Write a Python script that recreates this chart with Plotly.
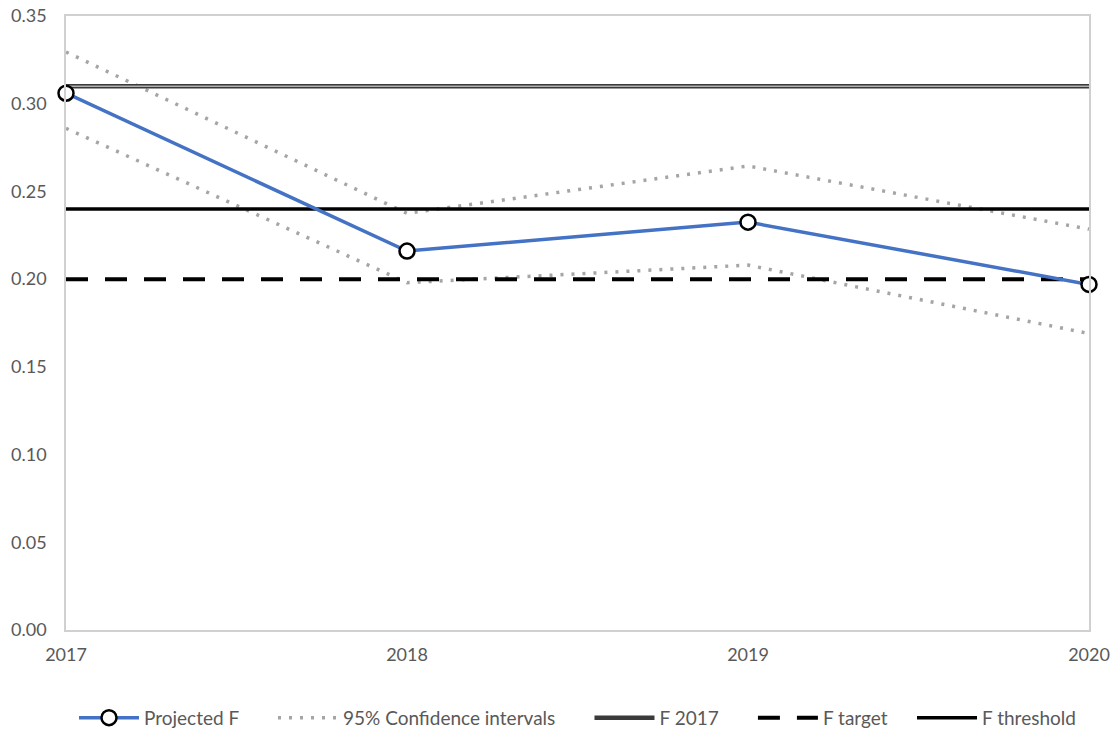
import plotly.graph_objects as go

years = [2017, 2018, 2019, 2020]
projected_f = [0.306, 0.216, 0.2325, 0.197]
ci_upper = [0.3295, 0.2375, 0.2645, 0.2285]
ci_lower = [0.286, 0.198, 0.208, 0.169]
f_2017 = [0.31, 0.31, 0.31, 0.31]
f_target = [0.20, 0.20, 0.20, 0.20]
f_threshold = [0.24, 0.24, 0.24, 0.24]

y_ticks = [0.00, 0.05, 0.10, 0.15, 0.20, 0.25, 0.30, 0.35]

NB = "\u00a0"

fig = go.Figure()

fig.add_trace(go.Scatter(x=years, y=ci_upper, name="95% Confidence intervals" + NB * 6, mode="lines",
                         line=dict(color="#A5A5A5", width=3.5, dash="3px,8px"),
                         legendgroup="ci", legendrank=2))
fig.add_trace(go.Scatter(x=years, y=ci_lower, name="95% Confidence intervals", mode="lines",
                         line=dict(color="#A5A5A5", width=3.5, dash="3px,8px"),
                         legendgroup="ci", showlegend=False))
fig.add_trace(go.Scatter(x=years, y=f_2017, name="F 2017" + NB * 6, mode="lines",
                         line=dict(color="#3a3a3a", width=4.5),
                         legendgroup="f17", legendrank=3))
fig.add_trace(go.Scatter(x=years, y=f_2017, name="F 2017", mode="lines",
                         line=dict(color="#b0b0b0", width=1.5),
                         legendgroup="f17", showlegend=False))
fig.add_trace(go.Scatter(x=years, y=f_target, name="F target" + NB * 4, mode="lines",
                         line=dict(color="black", width=4, dash="22px,17px"),
                         legendrank=4))
fig.add_trace(go.Scatter(x=years, y=f_threshold, name="F threshold", mode="lines",
                         line=dict(color="black", width=3.5),
                         legendrank=5))
fig.add_trace(go.Scatter(x=years, y=projected_f, name="Projected F" + NB * 6, mode="lines+markers",
                         line=dict(color="#4472C4", width=3.5),
                         marker=dict(symbol="circle", size=15, color="white",
                                     line=dict(color="black", width=2.5)),
                         cliponaxis=False, legendrank=1))

fig.update_layout(
    width=1117, height=732,
    margin=dict(l=66, r=28, t=16, b=102, autoexpand=False),
    paper_bgcolor="white", plot_bgcolor="white",
    font=dict(family="Lato, Carlito, Calibri, sans-serif", size=18, color="#595959"),
    showlegend=True,
    legend=dict(orientation="h", x=0.5, xanchor="center", y=-0.143, yanchor="middle",
                font=dict(size=19, color="#595959"), traceorder="normal",
                itemwidth=60),
    xaxis=dict(range=[2017, 2020], tickvals=years, ticktext=[str(y) for y in years],
               showgrid=False, automargin=False,
               showline=True, linecolor="#d0d0d0", linewidth=1.5, mirror=True,
               zeroline=False, ticks="", ticklabelstandoff=8),
    yaxis=dict(range=[0, 0.35], tickvals=y_ticks, tickformat=".2f", automargin=False,
               showgrid=False, showline=True, linecolor="#d0d0d0", linewidth=1.5, mirror=True,
               zeroline=False, ticks="", ticklabelstandoff=14),
)

fig.write_html("out.html", config={"displayModeBar": False},
               post_script="document.body.style.margin='0px';")
